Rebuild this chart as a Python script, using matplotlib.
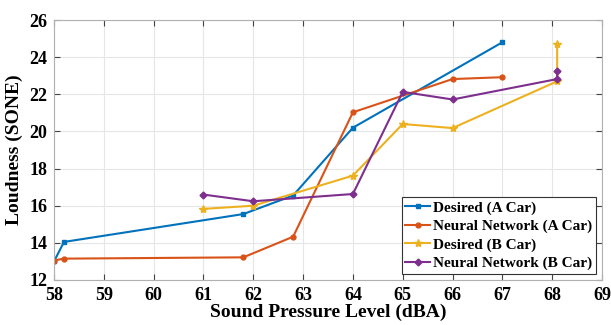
import matplotlib
matplotlib.use("Agg")
from matplotlib import pyplot as plt

# Daten
x_des_a = [58, 58.2, 61.8, 62.8, 64, 67]
y_des_a = [13.0, 14.05, 15.55, 16.55, 20.2, 24.8]

x_nn_a = [58, 58.2, 61.8, 62.8, 64, 66, 67]
y_nn_a = [13.05, 13.15, 13.22, 14.33, 21.03, 22.82, 22.92]

x_des_b = [61, 62, 64, 65, 66, 68.1, 68.1]
y_des_b = [15.83, 16.0, 17.62, 20.4, 20.18, 22.7, 24.7]

x_nn_b = [61, 62, 64, 65, 66, 68.1, 68.1]
y_nn_b = [16.6, 16.24, 16.63, 22.13, 21.72, 22.82, 23.27]

xticks = list(range(58, 70))
yticks = list(range(12, 27, 2))

plt.rcParams['font.family'] = ['Liberation Serif', 'DejaVu Serif']
plt.rcParams['font.weight'] = 'bold'

fig = plt.figure(figsize=(6.11, 3.25), dpi=100)
ax = fig.add_axes([54/611, 1-280/325, 548/611, 260/325])

ax.plot(x_des_a, y_des_a, color='#0072BD', marker='s', markersize=3.5, linewidth=1.5, label='Desired (A Car)')
ax.plot(x_nn_a, y_nn_a, color='#D95319', marker='o', markersize=3.5, linewidth=1.5, label='Neural Network (A Car)')
ax.plot(x_des_b, y_des_b, color='#EDB120', marker='*', markersize=6, linewidth=1.5, label='Desired (B Car)')
ax.plot(x_nn_b, y_nn_b, color='#7E2F8E', marker='D', markersize=3.5, linewidth=1.5, label='Neural Network (B Car)')

ax.set_xlim(58, 69)
ax.set_ylim(12, 26)
ax.set_xticks(xticks)
ax.set_yticks(yticks)
ax.tick_params(direction='in', top=True, right=True, labelsize=13, length=4, color='#444444', pad=5)
for lab in ax.get_xticklabels() + ax.get_yticklabels():
    lab.set_fontweight('bold')
ax.grid(True, color='#e6e6e6', linewidth=0.8)
ax.set_axisbelow(True)
for s in ax.spines.values():
    s.set_color('#b0b0b0')

ax.set_xlabel('Sound Pressure Level (dBA)', fontsize=14, fontweight='bold', labelpad=0)
ax.set_ylabel('Loudness (SONE)', fontsize=14, fontweight='bold', labelpad=4)

leg = ax.legend(loc='lower right', prop={'size': 11, 'weight': 'bold'}, handlelength=1.6,
                handletextpad=0.2, borderpad=0.25, labelspacing=0.3, fancybox=False,
                framealpha=1, borderaxespad=0.4)
leg.get_frame().set_edgecolor('#333333')
leg.get_frame().set_linewidth(0.8)

plt.savefig('out.png', dpi=100)
